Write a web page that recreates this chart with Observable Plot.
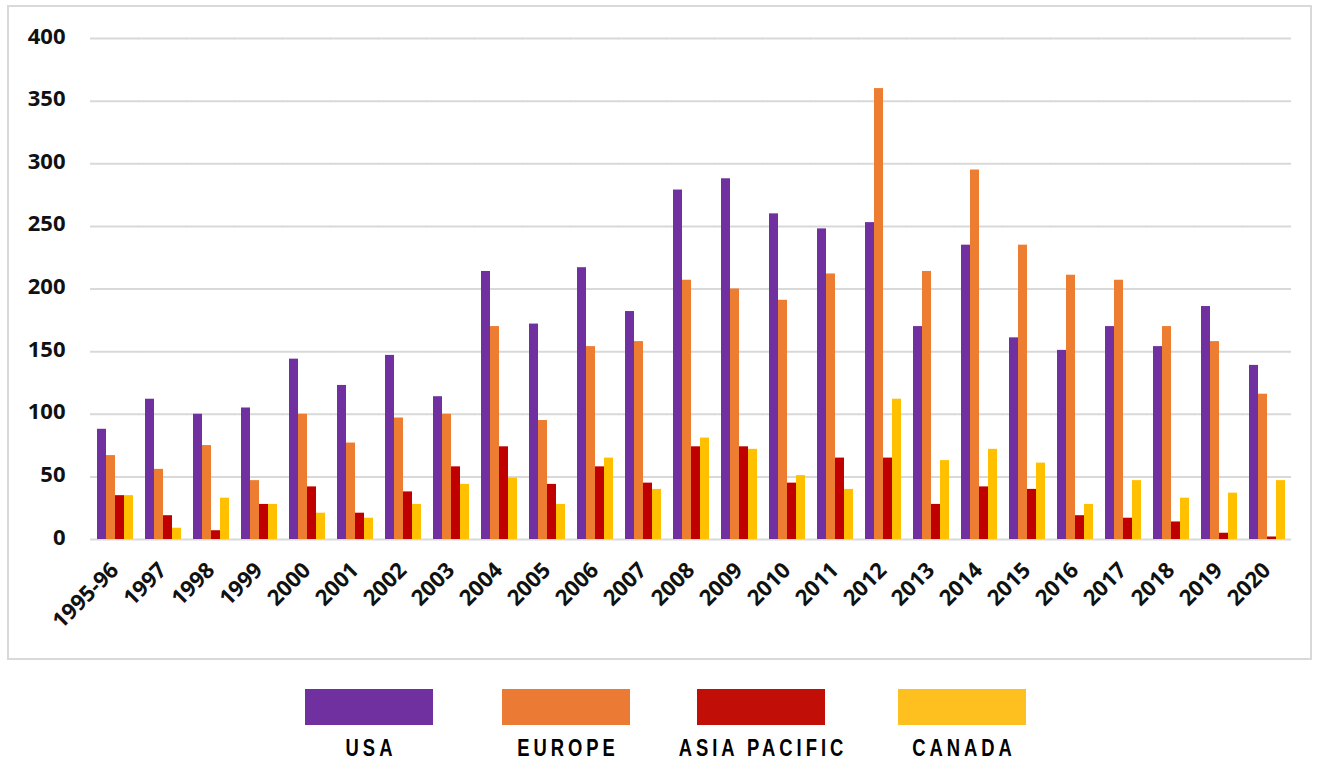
<!DOCTYPE html>
<html>
<head>
<meta charset="utf-8">
<script src="https://cdn.jsdelivr.net/npm/d3@7"></script>
<script src="https://cdn.jsdelivr.net/npm/@observablehq/plot@0.6"></script>
<style>
  html, body { margin: 0; padding: 0; background: #fff; }
  body { width: 1322px; height: 762px; position: relative; overflow: hidden; }
  #frame { position: absolute; left: 7px; top: 5px; width: 1305px; height: 655px; box-sizing: border-box; border: 2px solid #d9d9d9; }
  #frame svg { display: block; }
  .sw { position: absolute; top: 689px; width: 128px; height: 36px; }
  .lab { position: absolute; top: 734px; width: 300px; text-align: center; font-family: "Liberation Sans", Arial, sans-serif; font-weight: bold; font-size: 23px; letter-spacing: 5px; color: #000; line-height: 28px; transform: scaleX(0.8); transform-origin: 150px 0; }
</style>
</head>
<body>
<div id="frame"></div>
<div id="legend"></div>
<script>
const years = ["1995-96","1997","1998","1999","2000","2001","2002","2003","2004","2005","2006","2007","2008","2009","2010","2011","2012","2013","2014","2015","2016","2017","2018","2019","2020"];
const regions = ["USA","Europe","Asia Pacific","Canada"];
const legendLabels = ["USA","EUROPE","ASIA PACIFIC","CANADA"];
const colors = ["#7030a0","#ed7d31","#c00000","#ffc000"];
const legendColors = ["#7030a0","#eb7a35","#c10f07","#fdc01f"];
const usa    = [88,112,100,105,144,123,147,114,214,172,217,182,279,288,260,248,253,170,235,161,151,170,154,186,139];
const europe = [67,56,75,47,100,77,97,100,170,95,154,158,207,200,191,212,360,214,295,235,211,207,170,158,116];
const asia   = [35,19,7,28,42,21,38,58,74,44,58,45,74,74,45,65,65,28,42,40,19,17,14,5,2];
const canada = [35,9,33,28,21,17,28,44,49,28,65,40,81,72,51,40,112,63,72,61,28,47,33,37,47];
const yTicks = [0,50,100,150,200,250,300,350,400];

const seriesValues = [usa, europe, asia, canada];
const data = years.flatMap((yr, i) => regions.map((r, j) => ({year: yr, region: r, value: seriesValues[j][i]})));

const chart = Plot.plot({
  width: 1301,
  height: 651,
  marginLeft: 80,
  marginRight: 19,
  marginTop: 31,
  marginBottom: 119,
  style: {fontFamily: "'Open Sans', sans-serif", color: "#111", background: "transparent"},
  fx: {domain: years, paddingInner: 0.23, paddingOuter: 0.135, label: null},
  x: {domain: regions, padding: 0, axis: null},
  y: {domain: [0, 400], label: null, axis: null},
  color: {domain: regions, range: colors},
  marks: [
    Plot.ruleY(yTicks, {stroke: "#d9d9d9", strokeWidth: 2, insetLeft: -6, insetRight: -6}),
    Plot.barY(data, {fx: "year", x: "region", y: "value", fill: "region"}),
    Plot.axisY(yTicks, {tickSize: 0, tickPadding: 31, dy: -2, fontSize: 22, fontWeight: "bold", label: null, tickFormat: d => String(d)}),
    Plot.axisFx({anchor: "bottom", tickRotate: -45, tickSize: 0, tickPadding: 27, fontSize: 22, fontWeight: "bold", label: null})
  ]
});
document.getElementById("frame").appendChild(chart);

const swLeft = [305, 502, 697, 898];
const legend = document.getElementById("legend");
legendLabels.forEach((lab, i) => {
  const s = document.createElement("div");
  s.className = "sw";
  s.style.left = swLeft[i] + "px";
  s.style.background = legendColors[i];
  legend.appendChild(s);
  const t = document.createElement("div");
  t.className = "lab";
  t.style.left = (swLeft[i] + 64 - 150 + 2) + "px";
  t.textContent = lab;
  legend.appendChild(t);
});
</script>
</body>
</html>
